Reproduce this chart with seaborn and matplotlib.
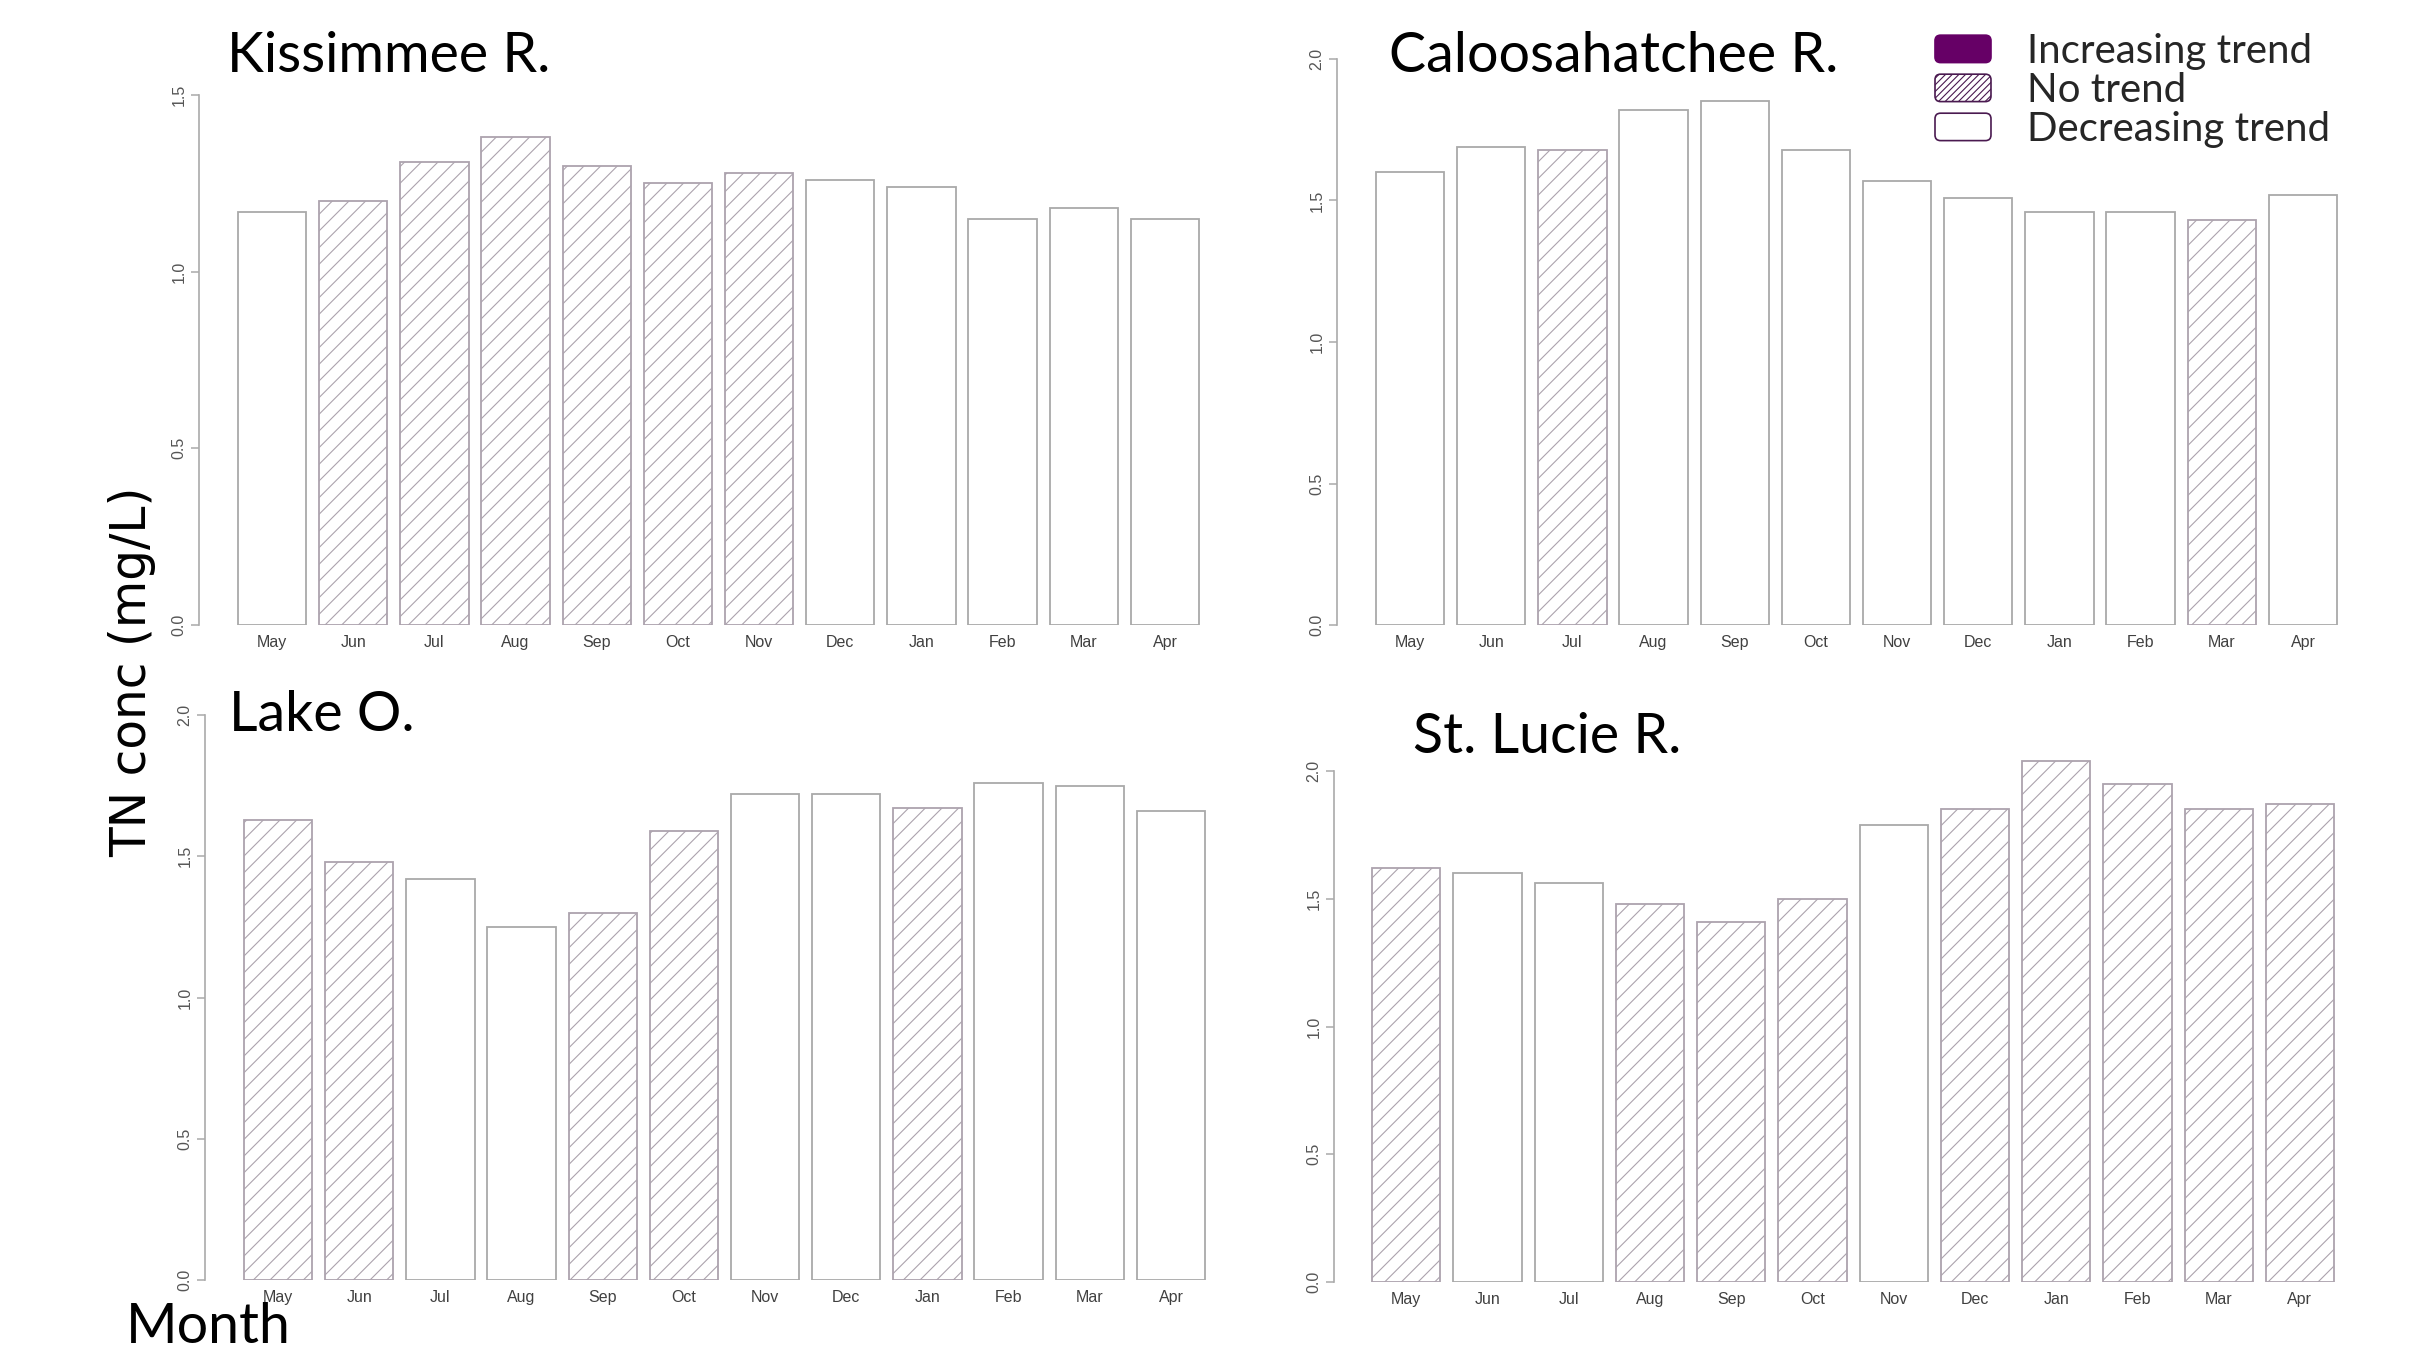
import matplotlib
matplotlib.use("Agg")
import matplotlib.pyplot as plt
import seaborn as sns
from matplotlib.patches import Patch, FancyBboxPatch
from matplotlib.legend_handler import HandlerPatch

# ---------------- data ----------------
months = ['May', 'Jun', 'Jul', 'Aug', 'Sep', 'Oct', 'Nov', 'Dec', 'Jan', 'Feb', 'Mar', 'Apr']

kissimmee_tn = [1.17, 1.20, 1.31, 1.38, 1.30, 1.25, 1.28, 1.26, 1.24, 1.15, 1.18, 1.15]
kissimmee_trend = ['Decreasing', 'None', 'None', 'None', 'None', 'None', 'None',
                   'Decreasing', 'Decreasing', 'Decreasing', 'Decreasing', 'Decreasing']

caloosahatchee_tn = [1.60, 1.69, 1.68, 1.82, 1.85, 1.68, 1.57, 1.51, 1.46, 1.46, 1.43, 1.52]
caloosahatchee_trend = ['Decreasing', 'Decreasing', 'None', 'Decreasing', 'Decreasing', 'Decreasing',
                        'Decreasing', 'Decreasing', 'Decreasing', 'Decreasing', 'None', 'Decreasing']

lake_o_tn = [1.63, 1.48, 1.42, 1.25, 1.30, 1.59, 1.72, 1.72, 1.67, 1.76, 1.75, 1.66]
lake_o_trend = ['None', 'None', 'Decreasing', 'Decreasing', 'None', 'None', 'Decreasing',
                'Decreasing', 'None', 'Decreasing', 'Decreasing', 'Decreasing']

st_lucie_tn = [1.62, 1.60, 1.56, 1.48, 1.41, 1.50, 1.79, 1.85, 2.04, 1.95, 1.85, 1.87]
st_lucie_trend = ['None', 'Decreasing', 'Decreasing', 'None', 'None', 'None', 'Decreasing',
                  'None', 'None', 'None', 'None', 'None']

titles = ['Kissimmee R.', 'Caloosahatchee R.', 'Lake O.', 'St. Lucie R.']
legend_labels = ['Increasing trend', 'No trend', 'Decreasing trend']
y_label = 'TN conc (mg/L)'
x_label = 'Month'

# ---------------- style ----------------
sns.set_style('white')
plt.rcParams['font.family'] = ['Liberation Sans', 'DejaVu Sans']
plt.rcParams['hatch.linewidth'] = 0.8

W, H = 2414, 1354
fig = plt.figure(figsize=(W / 100, H / 100), dpi=100)
fig.patch.set_facecolor('white')

# layout of each panel in pixels: axis x, first bar left, last bar right,
# zero line y, reference tick y and its value, y max, ticks, title pos
panels = [
    dict(A=199, L=238, R=1199, y0=625, yr=95, vr=1.5, ymax=1.55,
         ticks=[0.0, 0.5, 1.0, 1.5], tx=227, ty=72),
    dict(A=1337, L=1376, R=2337, y0=625, yr=59, vr=2.0, ymax=2.02,
         ticks=[0.0, 0.5, 1.0, 1.5, 2.0], tx=1389, ty=72),
    dict(A=205, L=244, R=1205, y0=1280, yr=715, vr=2.0, ymax=2.02,
         ticks=[0.0, 0.5, 1.0, 1.5, 2.0], tx=229, ty=731),
    dict(A=1334, L=1372, R=2334, y0=1282, yr=771, vr=2.0, ymax=2.08,
         ticks=[0.0, 0.5, 1.0, 1.5, 2.0], tx=1413, ty=753),
]
series = [(kissimmee_tn, kissimmee_trend), (caloosahatchee_tn, caloosahatchee_trend),
          (lake_o_tn, lake_o_trend), (st_lucie_tn, st_lucie_trend)]

bw = 0.84
for spec, (vals, trend), title in zip(panels, series, titles):
    pitch = (spec['R'] - spec['L']) / (11 + bw)
    xa = -bw / 2 - (spec['L'] - spec['A']) / pitch
    xb = 11 + bw / 2 + 0.15
    unit = (spec['y0'] - spec['yr']) / spec['vr']
    ax = fig.add_axes([spec['A'] / W, 1 - spec['y0'] / H,
                       (xb - xa) * pitch / W, spec['ymax'] * unit / H])
    sns.barplot(x=months, y=vals, order=months, color='white', saturation=1,
                width=bw, edgecolor='#a9a9a9', linewidth=1.3, ax=ax)
    for bar, t in zip(ax.patches, trend):
        if t == 'None':
            bar.set_hatch('//')
            bar.set_edgecolor('#aca3ae')
    ax.set_xlim(xa, xb)
    ax.set_ylim(0, spec['ymax'])
    ax.set_xlabel('')
    ax.set_ylabel('')
    ax.set_facecolor('none')
    for s in ['top', 'right', 'bottom']:
        ax.spines[s].set_visible(False)
    ax.spines['left'].set_color('#aaaaaa')
    ax.spines['left'].set_linewidth(1.2)
    ax.spines['left'].set_bounds(spec['ticks'][0], spec['ticks'][-1])
    ax.set_yticks(spec['ticks'])
    ax.set_yticklabels([f'{t:.1f}' for t in spec['ticks']])
    ax.tick_params(axis='y', length=6, width=1.1, color='#aaaaaa', labelsize=11.5,
                   labelcolor='#555555', pad=3, labelrotation=90, left=True)
    for lbl in ax.get_yticklabels():
        lbl.set_va('center')
    ax.set_xticks(range(len(months)))
    ax.set_xticklabels(months)
    ax.tick_params(axis='x', length=0, pad=7, labelsize=11.5, labelcolor='#404040')
    fig.text(spec['tx'] / W, 1 - spec['ty'] / H, title, fontsize=40, family='Lato',
             ha='left', va='baseline', color='black')

fig.text(132 / W, 1 - 672 / H, y_label, rotation=90, fontsize=35, family='DejaVu Sans',
         ha='center', va='center', color='black')
fig.text(126 / W, 0.0005, x_label, fontsize=40, family='Lato',
         ha='left', va='bottom', color='black')


class RoundHandler(HandlerPatch):
    def create_artists(self, legend, orig_handle, xdescent, ydescent, width, height,
                       fontsize, trans):
        p = FancyBboxPatch((-xdescent, -ydescent), width, height,
                           boxstyle='round,pad=0,rounding_size=4')
        self.update_prop(p, orig_handle, legend)
        p.set_transform(trans)
        return [p]


purple = '#660066'
handles = [Patch(facecolor=purple, edgecolor=purple, linewidth=1.2),
           Patch(facecolor='white', edgecolor='#4a1a50', hatch='/////', linewidth=1.2),
           Patch(facecolor='white', edgecolor='#4a1a50', linewidth=1.2)]
leg = fig.legend(handles, legend_labels, loc='upper left',
                 bbox_to_anchor=(1935 / W, 1 - 33 / H), frameon=False,
                 prop={'family': 'Lato', 'size': 29}, handlelength=1.39, handleheight=0.67,
                 handletextpad=0.9, labelspacing=0.05, borderpad=0, borderaxespad=0,
                 handler_map={Patch: RoundHandler()})

fig.savefig('out.png', dpi=100, facecolor='white')
